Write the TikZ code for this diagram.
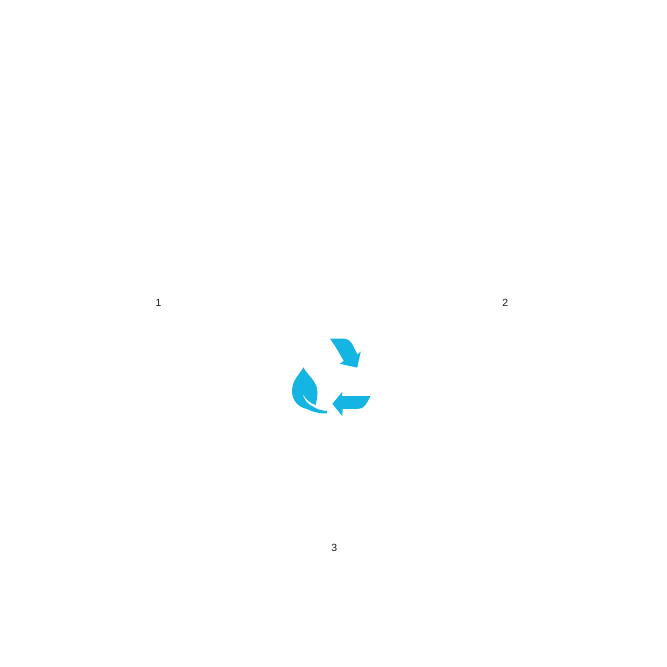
\documentclass[tikz,border=0pt]{standalone}
\usepackage{fontspec}
\setmainfont{Liberation Sans}
\definecolor{iconblue}{HTML}{14B5E3}
\tikzset{
  numlabel/.style={font=\fontsize{7.8pt}{9pt}\selectfont, text=black!90, inner sep=0pt},
  iconshape/.style={fill=iconblue, draw=none}
}
\begin{document}
\begin{tikzpicture}[x=0.75pt,y=-0.75pt]
\useasboundingbox (0,0) rectangle (667,667);
\node[numlabel] (one) at (158.4,303.2) {1};
\node[numlabel] (two) at (505.3,303.2) {2};
\node[numlabel] (three) at (334.2,548) {3};
% upper arrow
\fill[iconshape] (330,338.7) -- (344.5,338.7) .. controls (349,339.2) and (351.5,342.5) .. (353,345.5)
  -- (357.4,354.5) -- (360.8,351.5) -- (357.2,367.6) -- (339.8,363.8) -- (343.8,361)
  .. controls (340,354.5) and (336,347) .. cycle;
% lower arrow
\fill[iconshape] (332.4,403.8) -- (342.4,391.8) -- (342,396.2) -- (370.5,396.2)
  .. controls (368,400.5) and (367,403.5) .. (365,405.5)
  .. controls (363,408) and (361,408.8) .. (358,408.8)
  -- (342.6,408.8) -- (342.4,416.2) -- cycle;
% leaf, with the vein as a notch in its outline
\fill[iconshape] (303.4,367.3) .. controls (300,374) and (292,380) .. (292,391)
  .. controls (292,401) and (299,407.5) .. (307,409)
  .. controls (313,412.3) and (320,413.6) .. (327,413.4) -- (327,411)
  .. controls (322,410.8) and (317,409.2) .. (313.6,406.9)
  .. controls (308.5,404.8) and (304,400.5) .. (302.6,393.2)
  .. controls (305.5,399.5) and (310,403.2) .. (315.6,405)
  .. controls (316.9,400.5) and (317.6,396) .. (317.3,391)
  .. controls (316.8,381) and (308,376) .. cycle;
\end{tikzpicture}
\end{document}
